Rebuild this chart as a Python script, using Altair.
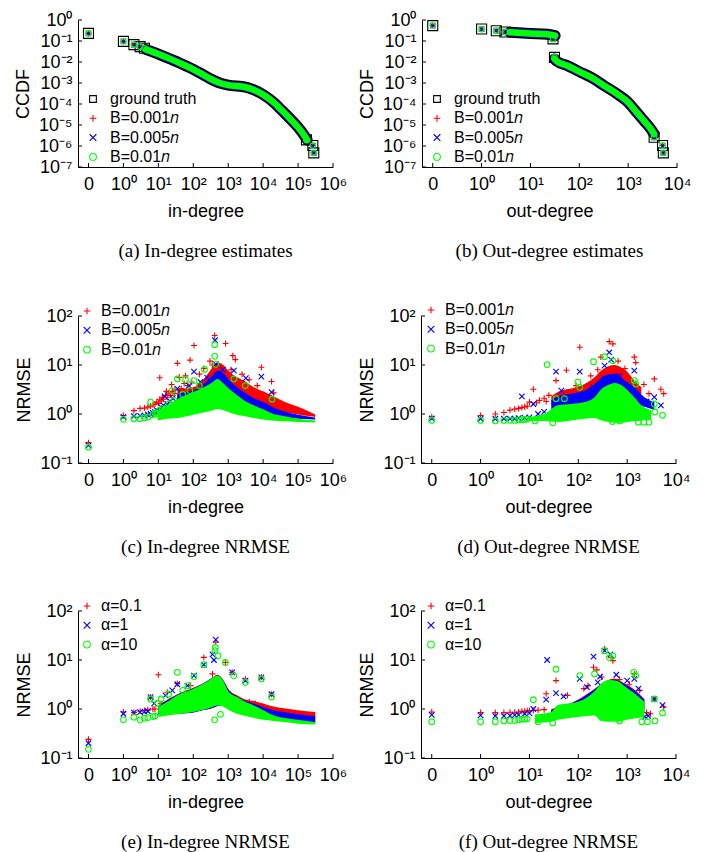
import altair as alt
import pandas as pd

RED, BLUE, GREEN, BLACK = "#ff0000", "#0000ff", "#00ff00", "#000000"
PLUS = "M-1,0L1,0M0,-1L0,1"
CROSS = "M-1,-1L1,1M-1,1L1,-1"

# ---------------- (a) in-degree CCDF ----------------
a_pts_deg = [0, 1, 2, 3, 4, 174000, 265000, 282000]
a_pts_ccdf = [0.23, 0.096, 0.067, 0.054, 0.045, 1.95e-6, 1.05e-6, 4.7e-7]
a_band_deg = [4.5, 10, 32, 100, 190, 316, 575, 1000, 3160, 5250, 10000, 20000, 31600, 60000, 100000, 145000, 182000]
a_band_ccdf = [0.039, 0.024, 0.0107, 0.0045, 0.0025, 0.00155, 0.001, 0.00079, 0.00063, 0.00048,
               0.00028, 0.00012, 5.7e-5, 1.95e-5, 7.8e-6, 3.5e-6, 1.95e-6]

# ---------------- (b) out-degree CCDF ----------------
b_pts_deg = [0, 1, 2, 3, 29, 31, 3400, 5060, 5250]
b_pts_ccdf = [0.54, 0.37, 0.31, 0.27, 0.126, 0.0166, 2.6e-6, 1.05e-6, 4.7e-7]
b_band1_deg = [3.8, 10, 22, 32]
b_band1_ccdf = [0.26, 0.23, 0.21, 0.18]
b_band2_deg = [31, 35, 56, 100, 200, 324, 600, 1000, 1320, 2050, 2900, 3400]
b_band2_ccdf = [0.014, 0.0107, 0.0068, 0.0035, 0.00155, 0.00074, 0.0003, 0.00012, 5.7e-5, 1.7e-5, 6.5e-6, 3.7e-6]

# ---------------- (c) in-degree NRMSE, budgets ----------------
c_band_deg = [35, 100, 200, 355, 490, 760, 1000, 1800, 2800, 5400, 10000, 20000, 39000, 100000, 220000, 310000]
c_red_lo = [1.5, 1.9, 2.8, 3.5, 4.1, 3.5, 3.0, 2.2, 1.9, 1.6, 1.4, 1.2, 1.1, 0.98, 0.9, 0.87]
c_red_hi = [3.2, 3.5, 5.2, 8.9, 11.2, 9.7, 7.7, 5.6, 4.8, 3.5, 2.9, 2.3, 1.8, 1.4, 1.1, 0.98]
c_blue_lo = [1.1, 1.3, 1.5, 1.75, 2.05, 1.75, 1.6, 1.4, 1.3, 1.1, 1.0, 0.94, 0.87, 0.8, 0.78, 0.77]
c_blue_hi = [2.6, 3.0, 4.1, 6.1, 7.7, 6.6, 5.2, 3.5, 2.8, 2.1, 1.75, 1.35, 1.14, 0.97, 0.88, 0.85]
c_green_band_deg = [9.5, 18, 35, 100, 200, 355, 490, 760, 1000, 1800, 2800, 5400, 10000, 20000, 39000, 100000, 220000, 310000]
c_green_lo = [0.74, 0.8, 0.83, 0.97, 1.07, 1.18, 1.27, 1.18, 1.1, 0.97, 0.91, 0.83, 0.77, 0.73, 0.71, 0.69, 0.68, 0.67]
c_green_hi = [1.18, 1.5, 2.0, 2.8, 3.5, 4.45, 5.2, 4.1, 3.4, 2.4, 1.9, 1.5, 1.25, 1.0, 0.91, 0.8, 0.75, 0.73]
c_red_deg = [0, 1, 2, 3, 4, 5, 6, 7, 8, 9, 10, 11, 12, 13, 14, 16, 18, 20, 22, 25, 28, 30, 11, 35, 81, 105, 410,
             840, 1350, 1600, 8900, 17400, 6800, 40, 17, 60, 24, 150, 200, 300, 350, 1200, 2500, 4000, 20000, 45, 55, 70, 90]
c_red_val = [0.26, 0.93, 1.17, 1.3, 1.32, 1.38, 1.45, 1.55, 1.6, 1.75, 1.65, 2.0, 1.85, 2.2, 2.0, 2.4, 2.2, 2.7, 2.4, 2.9, 2.6, 3.1, 5.5, 10.8, 12.6, 25, 40,
             27.5, 15.5, 12.9, 9.0, 4.6, 3.8, 5.6, 2.9, 6.0, 4.0, 6.5, 8.5, 12, 10, 8, 6.5, 5, 2.7, 3.3, 4.2, 3.8, 4.5]
c_blue_deg = [0, 1, 2, 3, 4, 5, 6, 7, 8, 9, 10, 12, 14, 15, 18, 22, 26, 35, 105, 420, 440, 1450, 3200, 8900, 17400, 60, 75, 160, 250, 700]
c_blue_val = [0.23, 0.87, 0.9, 0.92, 0.94, 0.97, 1.0, 1.05, 1.1, 1.2, 1.15, 1.4, 1.5, 2.3, 1.6, 1.8, 2.1, 3.3, 7.3, 32, 10.4, 7.7, 5.4, 5.8, 2.8, 2.5, 3.8, 4.5, 5.5, 8]
c_green_deg = [0, 1, 2, 3, 4, 5, 6, 7, 8, 9, 11, 13, 15, 20, 28, 35, 60, 105, 210, 410, 410, 440, 1450, 3100, 18000, 25, 50, 80, 150]
c_green_val = [0.21, 0.78, 0.8, 0.8, 0.84, 0.86, 1.75, 0.95, 1.05, 1.0, 1.2, 1.3, 1.1, 1.6, 1.9, 5.2, 5.0, 4.8, 8.1, 26, 15, 10.3, 5.2, 3.8, 2.0, 3.0, 2.5, 3.0, 3.8]

# ---------------- (d) out-degree NRMSE, budgets ----------------
d_red_band_deg = [28, 45, 72, 135, 215, 295, 410, 550, 760, 1030, 1400, 1950]
d_red_lo = [1.5, 1.6, 1.9, 2.2, 2.8, 3.5, 4.1, 4.45, 4.1, 3.2, 2.6, 2.05]
d_red_hi = [2.3, 3.0, 3.3, 4.1, 5.6, 7.7, 9.4, 10, 8.9, 7.1, 4.8, 3.5]
d_blue_band_deg = [28, 45, 72, 135, 215, 345, 550, 890, 1400, 2250, 3600]
d_blue_lo = [1.2, 1.3, 1.4, 1.5, 1.75, 2.05, 2.2, 1.9, 1.6, 1.4, 1.2]
d_blue_hi = [1.9, 2.4, 2.6, 3.0, 4.1, 6.1, 6.6, 4.8, 3.5, 2.2, 1.75]
d_green_band_deg = [9.4, 20, 38, 72, 135, 215, 295, 410, 550, 760, 1030, 1400, 1950, 3100]
d_green_lo = [0.72, 0.72, 0.69, 0.74, 0.8, 0.83, 0.74, 0.69, 0.66, 0.66, 0.69, 0.71, 0.74, 0.8]
d_green_hi = [0.87, 1.0, 1.5, 1.6, 1.75, 2.2, 3.2, 3.9, 4.3, 3.9, 3.0, 2.2, 1.5, 1.2]
d_red_deg = [0, 1, 2, 3, 4, 5, 6, 7, 8, 9, 10, 12, 14, 16, 20, 22, 25, 35, 57, 107, 430, 510, 290, 1400, 1500,
             3600, 4900, 5600, 60, 90, 180, 250, 650, 900, 2200, 2800]
d_red_val = [0.87, 0.93, 1.0, 1.07, 1.2, 1.26, 1.3, 1.35, 1.4, 1.45, 1.75, 3.2, 1.7, 1.9, 2.1, 1.8, 2.4, 4.8, 7.8, 23, 30, 27, 14.5, 14.5, 11.2,
             5.2, 3.2, 2.6, 2.6, 3.8, 6.0, 8.0, 12, 8.5, 4.0, 2.6]
d_blue_deg = [0, 1, 2, 3, 4, 5, 6, 7, 8, 10, 12, 15, 20, 35, 45, 107, 345, 430, 470, 1400, 3600, 4900, 2500, 700, 200]
d_blue_val = [0.81, 0.8, 0.8, 0.8, 0.8, 0.8, 0.82, 2.3, 0.83, 0.85, 1.6, 1.0, 1.1, 7.3, 3.0, 7.3, 9.7, 18, 12.8, 7.7, 2.2, 1.5, 1.8, 6, 3.5]
d_green_deg = [0, 1, 2, 3, 4, 5, 6, 7, 8, 9, 13, 23, 30, 35, 52, 98, 107, 205, 345, 510, 1400, 1500, 3600, 3700,
               5300, 2200, 1700, 2800, 500, 700]
d_green_val = [0.74, 0.74, 0.72, 0.74, 0.74, 0.74, 0.76, 0.76, 0.78, 0.78, 0.72, 10.2, 0.66, 2.05, 2.05, 4.45, 3.5, 11.7, 14.8, 12.2, 4.8, 4.1, 1.6, 1.1,
               0.94, 0.68, 0.68, 0.68, 0.7, 0.72]

# ---------------- (e) in-degree NRMSE, alpha ----------------
e_band_deg = [10, 35, 100, 200, 355, 490, 760, 1000, 1800, 2800, 5400, 10000, 20000, 39000, 100000, 310000]
e_rb_lo = [0.75, 0.8, 0.85, 0.95, 1.05, 1.15, 1.2, 1.15, 1.0, 0.85, 0.78, 0.7, 0.66, 0.62, 0.57, 0.52]
e_red_hi = [1.2, 2.0, 2.7, 3.4, 4.4, 5.0, 3.7, 2.6, 1.9, 1.6, 1.45, 1.3, 1.12, 1.03, 0.94, 0.87]
e_blue_hi = [1.15, 1.95, 2.65, 3.35, 4.35, 4.9, 3.6, 2.5, 1.8, 1.5, 1.28, 1.1, 0.94, 0.87, 0.78, 0.71]
e_green_band_deg = [10, 18, 35, 100, 200, 355, 490, 760, 1000, 1800, 2800, 5400, 10000, 20000, 39000, 100000, 310000]
e_green_lo = [0.69, 0.74, 0.78, 0.87, 0.97, 1.1, 1.18, 1.1, 0.97, 0.8, 0.74, 0.66, 0.6, 0.57, 0.54, 0.5, 0.48]
e_green_hi = [1.1, 1.4, 1.9, 2.6, 3.3, 4.3, 4.8, 3.5, 2.3, 1.75, 1.45, 1.18, 0.94, 0.74, 0.66, 0.6, 0.54]
e_red_deg = [0, 1, 2, 3, 4, 5, 6, 7, 8, 10, 12, 18, 35, 84, 200, 355, 440, 830, 1300, 3100, 8900, 17400, 6000, 4000]
e_red_val = [0.24, 0.87, 0.85, 0.9, 0.93, 0.95, 1.75, 1.0, 1.0, 5.0, 1.3, 2.2, 3.3, 3.0, 11.3, 5.2, 23, 8.9, 5.6, 4.1, 4.5, 2.0, 1.3, 1.4]
e_blue_deg = [0, 1, 2, 3, 4, 5, 6, 7.6, 16, 35, 68, 105, 200, 355, 390, 440, 1300, 3100, 8900, 17400, 25, 50]
e_blue_val = [0.2, 0.8, 0.84, 0.86, 0.88, 0.9, 1.75, 1.3, 1.9, 3.2, 3.0, 4.8, 8.0, 13, 10, 26, 5.6, 3.8, 4.4, 2.0, 2.4, 2.0]
e_green_deg = [0, 1, 2, 3, 4, 5, 6, 7, 8, 9.5, 12, 35, 105, 200, 420, 430, 510, 830, 1450, 3100, 8900, 17400, 600, 410, 20, 50, 70]
e_green_val = [0.15, 0.6, 0.68, 0.6, 0.65, 0.67, 1.6, 0.7, 0.72, 1.3, 1.6, 5.6, 4.6, 8.0, 15.5, 18, 12.2, 8.9, 4.8, 3.5, 4.1, 1.75, 0.78, 0.6, 2.0, 2.4, 3.0]

# ---------------- (f) out-degree NRMSE, alpha ----------------
f_band_deg = [28, 98, 215, 345, 550, 890, 1400, 2250]
f_red_lo = [0.87, 0.94, 1.1, 1.3, 1.4, 1.3, 1.2, 1.0]
f_red_hi = [1.0, 1.55, 2.6, 3.6, 4.2, 3.3, 2.5, 1.6]
f_blue_lo = [0.8, 0.87, 1.0, 1.1, 1.2, 1.1, 1.0, 0.87]
f_blue_hi = [0.95, 1.5, 2.5, 3.5, 4.0, 3.2, 2.4, 1.55]
f_green_band_deg = [13, 28, 38, 98, 215, 295, 435, 650, 890, 1400, 2250]
f_green_lo = [0.52, 0.55, 0.6, 0.69, 0.74, 0.57, 0.55, 0.55, 0.59, 0.64, 0.69]
f_green_hi = [0.78, 0.87, 1.2, 1.4, 2.3, 3.3, 3.9, 3.7, 2.9, 2.1, 1.4]
f_red_deg = [0, 1, 2, 3, 4, 5, 6, 7, 8, 9, 10, 12, 15, 20, 22, 35, 158, 205, 240, 345, 470, 510, 1400, 3600, 5600, 2500, 3000,
             60, 130, 300, 700, 1100, 1800]
f_red_val = [0.87, 0.85, 0.85, 0.85, 0.86, 0.86, 0.87, 0.9, 0.9, 0.92, 0.92, 0.93, 0.95, 0.97, 2.05, 3.8, 3.0, 7.1, 6.3, 17, 11.2, 9.7, 5.2, 1.6, 1.1, 0.85, 0.8,
             1.9, 2.6, 4.5, 4.0, 3.2, 2.4]
f_blue_deg = [0, 1, 2, 3, 4, 5, 6, 8, 10, 12, 22, 23, 35, 107, 205, 250, 345, 455, 1400, 3600, 5300, 2300, 2700,
              50, 150, 280, 600, 1000, 1700]
f_blue_val = [0.76, 0.74, 0.72, 0.72, 0.73, 0.75, 0.76, 0.8, 0.82, 1.0, 1.55, 10, 2.1, 4.1, 11.7, 3.5, 15.5, 13, 4.1, 1.6, 1.2, 0.7, 0.72,
              1.8, 2.8, 4.6, 5.0, 3.8, 2.6]
f_green_deg = [0, 1, 2, 3, 4, 5, 6, 7, 8, 9, 12, 15, 30, 35, 107, 215, 345, 435, 510, 1370, 1500, 3600, 3700, 5300, 2000, 2600, 700]
f_green_val = [0.55, 0.55, 0.55, 0.57, 0.58, 0.58, 0.6, 0.62, 0.62, 0.63, 1.55, 0.55, 0.52, 6.5, 4.8, 5.2, 15.5, 11.2, 12.2, 5.6, 4.8, 1.6, 0.57, 0.83, 0.55, 0.55, 0.57]

B_NAMES = ["B=0.001𝑛", "B=0.005𝑛", "B=0.01𝑛"]
A_NAMES = ["α=0.1", "α=1", "α=10"]
GT = "ground truth"

# ---------------- helpers ----------------
W, H = 255, 147
XP = "datum.d > 0 ? log(datum.d) / LN10 : -1"
SUP = "['⁰','¹','²','³','⁴','⁵','⁶','⁷','⁸','⁹']"


def make_x(title, dom, maxdec):
    return alt.X("xp:Q", title=title,
                 scale=alt.Scale(domain=dom, nice=False, zero=False),
                 axis=alt.Axis(values=list(range(-1, maxdec + 1)),
                               labelExpr=f"datum.value < -0.5 ? '0' : '10' + {SUP}[round(datum.value)]",
                               labelFlush=False, labelOverlap=False, ticks=False, grid=False,
                               labelPadding=8, titlePadding=9))


def make_y(title, lo, hi):
    vals = [10.0 ** k for k in range(lo, hi + 1)]
    return alt.Y("val:Q", title=title,
                 scale=alt.Scale(type="log", domain=[vals[0], vals[-1]], nice=False),
                 axis=alt.Axis(values=vals,
                               labelExpr=f"'10' + (datum.value < 0.5 ? '⁻' : '') + {SUP}[round(abs(log(datum.value) / LN10))]",
                               labelFlush=False, labelOverlap=False, ticks=False, grid=False,
                               labelPadding=6, titlePadding=6)), vals


def tick_layers(X, Y, xvals, yvals):
    xt = alt.Chart(pd.DataFrame({"xp": xvals})).mark_rule(color=BLACK, strokeWidth=1).encode(
        x=X, y=alt.value(H), y2=alt.value(H - 4))
    yt = alt.Chart(pd.DataFrame({"val": yvals})).mark_rule(color=BLACK, strokeWidth=1).encode(
        y=Y, x=alt.value(0), x2=alt.value(4))
    return [xt, yt]


def legend(lx, ly, offset):
    return alt.Legend(title=None, orient="none", legendX=lx, legendY=ly, padding=0,
                      labelFont="Liberation Sans", labelFontSize=16, labelColor=BLACK,
                      symbolSize=45, symbolStrokeWidth=1.1, rowPadding=3.3, labelOffset=offset)


def enc_cs(names, colors, shapes, leg):
    c = alt.Color("series:N", scale=alt.Scale(domain=names, range=colors), legend=leg)
    s = alt.Shape("series:N", scale=alt.Scale(domain=names, range=shapes), legend=leg)
    return c, s


def points(deg, val, name, X, Y, C, S, size):
    df = pd.DataFrame({"d": deg, "val": val, "series": name})
    return alt.Chart(df).transform_calculate(xp=XP).mark_point(
        filled=False, size=size, strokeWidth=1.1, opacity=1).encode(x=X, y=Y, color=C, shape=S)


def band(deg, lo, hi, color, X, Y):
    df = pd.DataFrame({"d": deg, "val": lo, "val2": hi})
    return alt.Chart(df).transform_calculate(xp=XP).mark_area(
        color=color, opacity=1, interpolate="monotone").encode(x=X, y=Y, y2="val2:Q")


def caption(text):
    return alt.TitleParams(text, orient="bottom", font="Liberation Serif", fontSize=19,
                           fontWeight="normal", color=BLACK, offset=22)


def ccdf_panel(pts_deg, pts_val, band_segs, xtitle, xdom, maxdec, cap, lx, ly):
    X = make_x(xtitle, xdom, maxdec)
    Y, yvals = make_y("CCDF", -7, 0)
    names = [GT] + B_NAMES
    C, S = enc_cs(names, [BLACK, RED, BLUE, GREEN], ["square", PLUS, CROSS, "circle"], legend(lx, ly, 9))
    rows = []
    for i, (bd, bv) in enumerate(band_segs):
        for d, v in zip(bd, bv):
            rows.append({"d": d, "val": v, "seg": i})
    bdf = pd.DataFrame(rows)

    def line(color, w):
        return alt.Chart(bdf).transform_calculate(xp=XP).mark_line(
            color=color, strokeWidth=w, strokeCap="round", strokeJoin="round", interpolate="monotone").encode(
            x=X, y=Y, detail="seg:N")

    layers = [line(BLACK, 11), points(pts_deg, pts_val, GT, X, Y, C, S, 100),
              points(pts_deg, pts_val, B_NAMES[0], X, Y, C, S, 36), line(BLUE, 8),
              points(pts_deg, pts_val, B_NAMES[1], X, Y, C, S, 30), line(GREEN, 6.5),
              points(pts_deg, pts_val, B_NAMES[2], X, Y, C, S, 32)]
    layers += tick_layers(X, Y, list(range(-1, maxdec + 1)), yvals)
    return alt.layer(*layers).properties(width=W, height=H, title=caption(cap))


def nrmse_panel(series, names, xtitle, xdom, maxdec, cap, lx, ly):
    X = make_x(xtitle, xdom, maxdec)
    Y, yvals = make_y("NRMSE", -1, 2)
    C, S = enc_cs(names, [RED, BLUE, GREEN], [PLUS, CROSS, "circle"], legend(lx, ly, 6))
    sizes = [36, 30, 32]
    layers = []
    for (bdeg, blo, bhi, pdeg, pval), name, color, size in zip(series, names, [RED, BLUE, GREEN], sizes):
        layers.append(band(bdeg, blo, bhi, color, X, Y))
        layers.append(points(pdeg, pval, name, X, Y, C, S, size))
    layers += tick_layers(X, Y, list(range(-1, maxdec + 1)), yvals)
    return alt.layer(*layers).properties(width=W, height=H, title=caption(cap))


IN_DOM = [-1.3, 6]
OUT_DOM = [-1.22, 4]

pa = ccdf_panel(a_pts_deg, a_pts_ccdf, [(a_band_deg, a_band_ccdf)], "in-degree", IN_DOM, 6,
                "(a) In-degree estimates", 7, 71)
pb = ccdf_panel(b_pts_deg, b_pts_ccdf, [(b_band1_deg, b_band1_ccdf), (b_band2_deg, b_band2_ccdf)],
                "out-degree", OUT_DOM, 4, "(b) Out-degree estimates", 7, 71)

pc = nrmse_panel([(c_band_deg, c_red_lo, c_red_hi, c_red_deg, c_red_val),
                  (c_band_deg, c_blue_lo, c_blue_hi, c_blue_deg, c_blue_val),
                  (c_green_band_deg, c_green_lo, c_green_hi, c_green_deg, c_green_val)],
                 B_NAMES, "in-degree", IN_DOM, 6, "(c) In-degree NRMSE", 1, -13)
pd_ = nrmse_panel([(d_red_band_deg, d_red_lo, d_red_hi, d_red_deg, d_red_val),
                   (d_blue_band_deg, d_blue_lo, d_blue_hi, d_blue_deg, d_blue_val),
                   (d_green_band_deg, d_green_lo, d_green_hi, d_green_deg, d_green_val)],
                  B_NAMES, "out-degree", OUT_DOM, 4, "(d) Out-degree NRMSE", 2, -14)
pe = nrmse_panel([(e_band_deg, e_rb_lo, e_red_hi, e_red_deg, e_red_val),
                  (e_band_deg, e_rb_lo, e_blue_hi, e_blue_deg, e_blue_val),
                  (e_green_band_deg, e_green_lo, e_green_hi, e_green_deg, e_green_val)],
                 A_NAMES, "in-degree", IN_DOM, 6, "(e) In-degree NRMSE", 1, -13)
pf = nrmse_panel([(f_band_deg, f_red_lo, f_red_hi, f_red_deg, f_red_val),
                  (f_band_deg, f_blue_lo, f_blue_hi, f_blue_deg, f_blue_val),
                  (f_green_band_deg, f_green_lo, f_green_hi, f_green_deg, f_green_val)],
                 A_NAMES, "out-degree", OUT_DOM, 4, "(f) Out-degree NRMSE", 2, -13)


def row(l, r):
    return alt.hconcat(l, r, spacing=11).resolve_scale(
        x="independent", y="independent", color="independent", shape="independent").resolve_legend(
        color="independent", shape="independent")


chart = alt.vconcat(row(pa, pb), row(pc, pd_), row(pe, pf), spacing=41).resolve_scale(
    x="independent", y="independent", color="independent", shape="independent").resolve_legend(
    color="independent", shape="independent").properties(
    padding={"left": 6, "top": 3, "right": 0, "bottom": 0}
).configure_view(stroke=None).configure_axis(
    domainColor=BLACK, domainWidth=1, labelFont="Liberation Sans", labelFontSize=18, labelColor=BLACK,
    titleFont="Liberation Sans", titleFontSize=18, titleFontWeight="normal", titleColor=BLACK
)

chart.save("out.html", embed_options={"renderer": "svg", "actions": False})
